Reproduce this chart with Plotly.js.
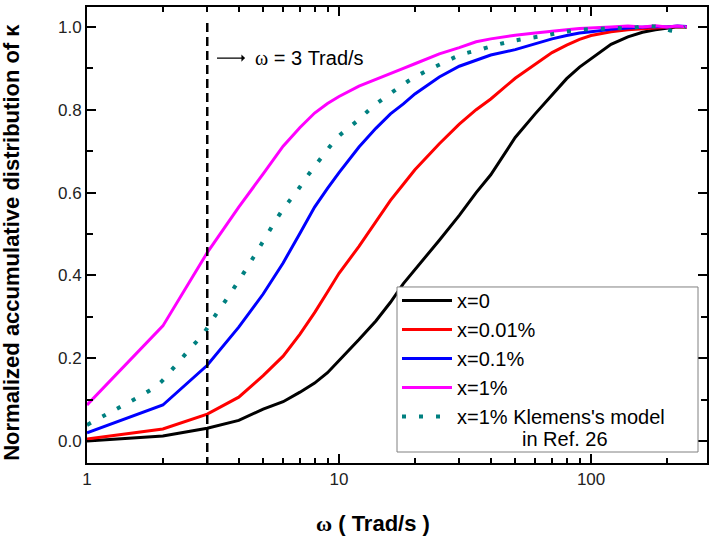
<!DOCTYPE html>
<html>
<head>
<meta charset="utf-8">
<script src="https://cdn.plot.ly/plotly-3.0.1.min.js"></script>
<style>html,body{margin:0;padding:0;background:#fff;}#chart{width:715px;height:541px;}</style>
</head>
<body>
<div id="chart"></div>
<script>
// omega (Trad/s) sampling for computed curves
const omega = [1,2,3,4,5,6,7,8,9,10,12,14,16,18,20,25,30,35,40,50,60,70,80,90,100,120,140,160,180,200,220,240];
const kappaX0 =    [0.0,0.012,0.031,0.05,0.077,0.095,0.118,0.14,0.165,0.194,0.245,0.29,0.335,0.38,0.413,0.485,0.545,0.6,0.643,0.733,0.79,0.836,0.875,0.903,0.923,0.958,0.976,0.987,0.993,0.997,1.0,1.0];
const kappaX001 =  [0.005,0.029,0.065,0.106,0.158,0.205,0.258,0.31,0.36,0.405,0.47,0.53,0.581,0.62,0.655,0.718,0.765,0.8,0.826,0.876,0.91,0.938,0.956,0.97,0.979,0.988,0.993,0.995,0.997,0.999,1.001,1.0];
const kappaX01 =   [0.02,0.087,0.183,0.275,0.355,0.43,0.502,0.565,0.61,0.648,0.71,0.755,0.79,0.814,0.838,0.879,0.905,0.919,0.932,0.945,0.96,0.971,0.979,0.985,0.988,0.994,0.997,0.999,1.001,1.0,1.002,1.001];
const kappaX1 =    [0.087,0.278,0.455,0.565,0.645,0.712,0.757,0.792,0.815,0.832,0.857,0.874,0.888,0.9,0.911,0.935,0.95,0.964,0.971,0.98,0.985,0.99,0.993,0.996,0.998,1.0,1.002,1.0,1.003,1.0,1.002,1.0];
// Klemens's model (Ref. 26), x = 1%
const omegaK = [1,1.2,1.4,1.64,1.93,2.2,2.54,2.9,3.2,3.6,4.0,4.43,4.86,6.0,6.75,7.6,8.55,9.9,11.8,13.6,15.9,18.6,21.8,25.9,30.3,35.7,42.4,49,57,67,77,90,105,122,142,165,185,215,236];
const kappaK = [0.039,0.065,0.087,0.11,0.138,0.176,0.22,0.26,0.30,0.345,0.387,0.43,0.47,0.56,0.60,0.645,0.686,0.734,0.773,0.807,0.838,0.867,0.891,0.913,0.932,0.944,0.957,0.966,0.973,0.98,0.987,0.993,0.995,0.997,0.997,1.002,1.0,0.99,1.0];
const seriesNames = ["x=0","x=0.01%","x=0.1%","x=1%","x=1% Klemens's model"];
const secondLine = "in Ref. 26";
const markerOmega = [3, 3];
const markerY = [-0.06, 1.02];
const xMajorTicks = [1, 10, 100];
const xMinorTicks = [2,3,4,5,6,7,8,9,20,30,40,50,60,70,80,90,200];
const yMinorTicks = [0.1,0.3,0.5,0.7,0.9];

const font = 'Arial, "Liberation Sans", sans-serif';
const traces = [
  {x: omega, y: kappaX0, name: seriesNames[0], mode: 'lines', line: {color: '#000000', width: 3}},
  {x: omega, y: kappaX001, name: seriesNames[1], mode: 'lines', line: {color: '#ff0000', width: 3}},
  {x: omega, y: kappaX01, name: seriesNames[2], mode: 'lines', line: {color: '#0000ff', width: 3}},
  {x: omega, y: kappaX1, name: seriesNames[3], mode: 'lines', line: {color: '#ff00ff', width: 3}},
  {x: omegaK, y: kappaK, name: seriesNames[4], mode: 'lines', line: {color: '#008080', width: 4, dash: '4px,13px', shape: 'spline'}},
  {x: markerOmega, y: markerY, mode: 'lines', showlegend: false, hoverinfo: 'skip', line: {color: '#000000', width: 2.5, dash: '9px,5px'}},
  // carrier for the minor-tick overlay axes (invisible)
  {x: omega, y: kappaX0, xaxis: 'x2', yaxis: 'y2', mode: 'lines', opacity: 0, showlegend: false, hoverinfo: 'skip', line: {color: '#000000', width: 1}}
];

const tickStyle = {showgrid: false, zeroline: false, showline: true, linecolor: '#000000', linewidth: 2,
                   mirror: 'ticks', ticks: 'inside', tickwidth: 1.5, tickcolor: '#000000'};

const layout = {
  width: 715, height: 541,
  margin: {l: 87, r: 8, t: 7, b: 78},
  plot_bgcolor: 'rgba(0,0,0,0)',
  font: {family: font, color: '#000000'},
  showlegend: true,
  legend: {x: 0.5, y: 0.399, xanchor: 'left', yanchor: 'top', bgcolor: 'rgba(0,0,0,0)', borderwidth: 0,
           font: {family: font, size: 20, color: '#000000'}, itemwidth: 50, tracegroupgap: 0},
  xaxis: Object.assign({}, tickStyle, {type: 'log', range: [0, 2.46], ticklen: 9,
          tickmode: 'array', tickvals: xMajorTicks, ticktext: xMajorTicks.map(String),
          tickfont: {family: font, size: 17, color: '#222222'}}),
  yaxis: Object.assign({}, tickStyle, {range: [-0.053, 1.048], ticklen: 9,
          tick0: 0, dtick: 0.2, tickformat: '.1f',
          tickfont: {family: font, size: 17, color: '#222222'}}),
  xaxis2: Object.assign({}, tickStyle, {type: 'log', range: [0, 2.46], ticklen: 5, overlaying: 'x', anchor: 'y2', side: 'bottom',
          tickmode: 'array', tickvals: xMinorTicks, showticklabels: false}),
  yaxis2: Object.assign({}, tickStyle, {range: [-0.053, 1.048], ticklen: 6, overlaying: 'y', anchor: 'x2', side: 'left',
          tickmode: 'array', tickvals: yMinorTicks, showticklabels: false}),
  shapes: [
    {type: 'rect', xref: 'paper', yref: 'paper', x0: 0.5, x1: 0.9855, y0: 0.0241, y1: 0.386,
     line: {color: '#808080', width: 1}, fillcolor: '#ffffff', layer: 'above'}
  ],
  annotations: [
    {xref: 'paper', yref: 'paper', x: 0.771, y: 0.0526, xanchor: 'center', yanchor: 'middle', showarrow: false,
     text: secondLine, font: {family: font, size: 20, color: '#000000'}},
    {xref: 'paper', yref: 'paper', x: 0.461, y: -0.1316, xanchor: 'center', yanchor: 'middle', showarrow: false,
     text: '<b><span style="font-family:Liberation Serif">\u03c9</span> ( Trad/s )</b>', font: {family: font, size: 22, color: '#000000'}},
    {xref: 'paper', yref: 'paper', x: -0.121, y: 0.485, xanchor: 'center', yanchor: 'middle', showarrow: false, textangle: -90,
     text: '<b>Normalized accumulative distribution of \u03ba</b>', font: {family: font, size: 22, color: '#000000'}},
    {xref: 'paper', yref: 'paper', x: 0.2097, y: 0.888, ax: 92, ay: 0, showarrow: true, arrowside: 'start',
     arrowhead: 2, arrowsize: 1, arrowwidth: 1.2, arrowcolor: '#000000', startstandoff: 9, borderpad: 0,
     text: '<span style="font-family:Liberation Serif">\u03c9</span> = 3 Trad/s', font: {family: font, size: 20, color: '#000000'}}
  ]
};

Plotly.newPlot('chart', traces, layout, {displayModeBar: false});
</script>
</body>
</html>
